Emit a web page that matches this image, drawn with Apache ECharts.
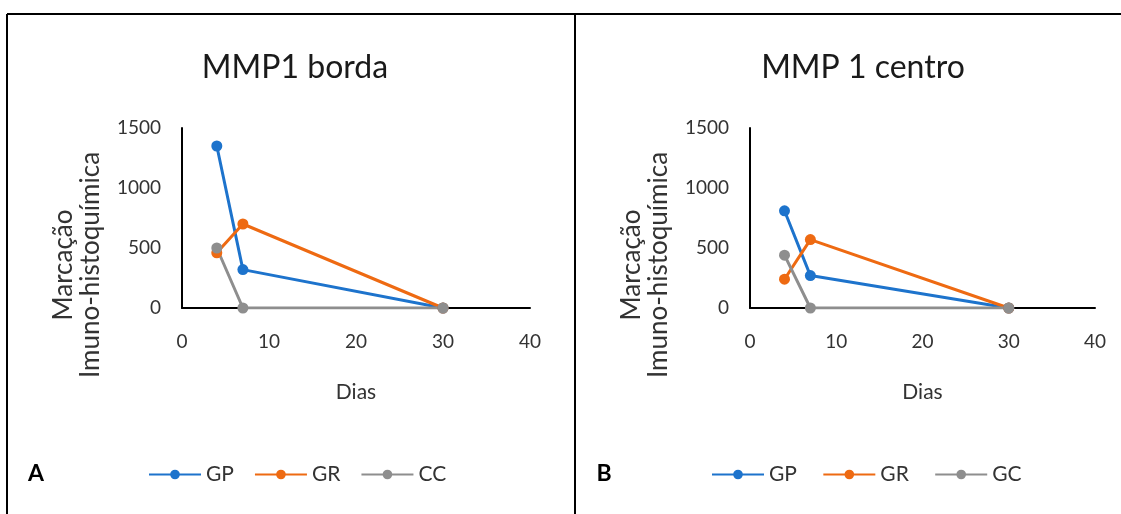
<!DOCTYPE html>
<html>
<head>
    <meta charset="utf-8">
    <title>MMP1</title>
    <script src="https://cdn.jsdelivr.net/npm/echarts@6/dist/echarts.min.js"></script>
<style type="text/css">
html, body{
    margin: 0;
    padding: 0;
    background: #fff;
}
#chart{
    width: 1121px;
    height: 514px;
}
</style>
</head>
<body>
    <div id="chart"></div>
    <script>
        // days (x values)
        var dias = [4, 7, 30];

        // panel A - MMP1 borda
        var bordaGP = [1350, 320, 0];
        var bordaGR = [460, 700, 0];
        var bordaCC = [500, 0, 0];

        // panel B - MMP 1 centro
        var centroGP = [810, 270, 0];
        var centroGR = [240, 570, 0];
        var centroGC = [440, 0, 0];

        var titles = ['MMP1 borda', 'MMP 1 centro'];
        var panelLetters = ['A', 'B'];
        var xName = 'Dias';
        var yName = 'Marcação\nImuno-histoquímica';

        var colors = {blue: '#1d73cc', orange: '#ee6a12', gray: '#8e8e8e'};
        var font = 'Lato, "Open Sans", sans-serif';
        var textColor = '#333';

        var pairs = (ys)=>dias.map((d, i)=>[d, ys[i]]);

        var makeSeries = (name, ys, color, idx)=>({
            name: name,
            type: 'line',
            xAxisIndex: idx,
            yAxisIndex: idx,
            data: pairs(ys),
            color: color,
            symbol: 'circle',
            symbolSize: 11,
            lineStyle: {width: 3},
            animation: false
        });

        var makeX = (idx)=>({
            gridIndex: idx,
            type: 'value',
            min: 0, max: 40, interval: 10,
            name: xName,
            nameLocation: 'middle',
            nameGap: 74,
            nameTextStyle: {fontFamily: font, fontSize: 21, color: textColor},
            axisLine: {show: true, lineStyle: {color: '#000', width: 2}},
            axisTick: {show: false},
            splitLine: {show: false},
            axisLabel: {fontFamily: font, fontSize: 19, color: textColor, margin: 24}
        });

        var makeY = (idx)=>({
            gridIndex: idx,
            type: 'value',
            min: 0, max: 1500, interval: 500,
            axisLine: {show: true, lineStyle: {color: '#000', width: 2}},
            axisTick: {show: false},
            splitLine: {show: false},
            axisLabel: {fontFamily: font, fontSize: 19, color: textColor, margin: 21,
                        formatter: (v)=>String(v)}
        });

        var yNameText = (x)=>({
            type: 'text',
            x: x, y: 265,
            rotation: Math.PI/2,
            style: {
                text: yName,
                fontFamily: font, fontSize: 26, fill: textColor,
                align: 'center', verticalAlign: 'middle', lineHeight: 27
            }
        });

        var letterText = (x, t)=>({
            type: 'text',
            x: x, y: 474,
            style: {
                text: t,
                fontFamily: font, fontSize: 23, fontWeight: 'bold', fill: '#000',
                align: 'center', verticalAlign: 'middle'
            }
        });

        var border = (x1, y1, x2, y2)=>({
            type: 'line',
            shape: {x1: x1, y1: y1, x2: x2, y2: y2},
            style: {stroke: '#000', lineWidth: 2}
        });

        var legendStyle = {fontFamily: font, fontSize: 21, color: textColor};

        var chart = echarts.init(document.getElementById('chart'));
        chart.setOption({
            animation: false,
            title: [
                {text: titles[0], left: 290, top: 47, textAlign: 'center',
                 textStyle: {fontFamily: font, fontSize: 32, fontWeight: 'normal', color: '#1a1a1a'}},
                {text: titles[1], left: 858, top: 47, textAlign: 'center',
                 textStyle: {fontFamily: font, fontSize: 32, fontWeight: 'normal', color: '#1a1a1a'}}
            ],
            grid: [
                {left: 182, top: 128, width: 348, height: 180},
                {left: 750, top: 128, width: 345, height: 180}
            ],
            xAxis: [makeX(0), makeX(1)],
            yAxis: [makeY(0), makeY(1)],
            legend: [
                {data: ['GP', 'GR', 'CC'], left: 148, top: 464, padding: 0, itemWidth: 52, itemHeight: 12,
                 itemGap: 20, textStyle: legendStyle},
                {data: ['GP ', 'GR ', 'GC'], left: 711, top: 464, padding: 0, itemWidth: 52, itemHeight: 12,
                 itemGap: 20, textStyle: legendStyle}
            ],
            series: [
                makeSeries('GP', bordaGP, colors.blue, 0),
                makeSeries('GR', bordaGR, colors.orange, 0),
                makeSeries('CC', bordaCC, colors.gray, 0),
                makeSeries('GP ', centroGP, colors.blue, 1),
                makeSeries('GR ', centroGR, colors.orange, 1),
                makeSeries('GC', centroGC, colors.gray, 1)
            ],
            graphic: [
                border(7, 14, 1121, 14),
                border(7, 14, 7, 514),
                border(575, 14, 575, 514),
                yNameText(77),
                yNameText(645),
                letterText(36, panelLetters[0]),
                letterText(604, panelLetters[1])
            ]
        });
    </script>
</body>
</html>
